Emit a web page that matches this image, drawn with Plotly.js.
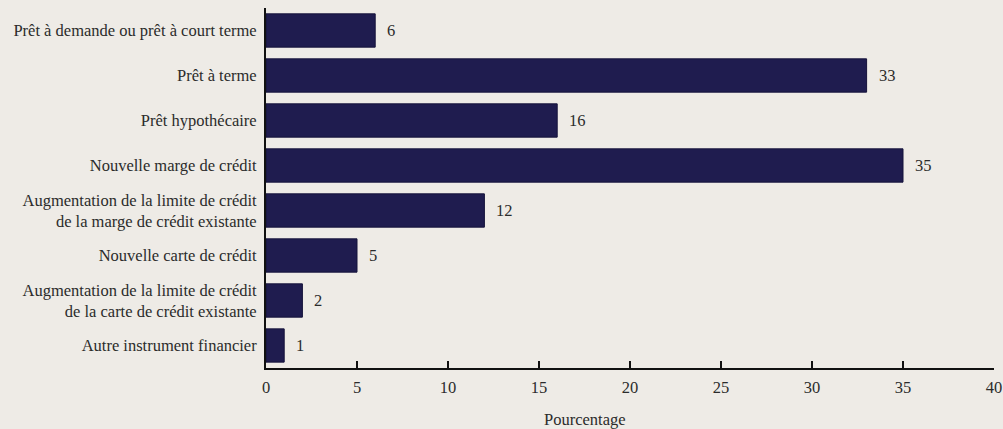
<!DOCTYPE html>
<html>
<head>
<meta charset="utf-8">
<script src="https://cdn.plot.ly/plotly-3.0.1.min.js"></script>
<style>
html,body{margin:0;padding:0;background:#eeebe6;}
#chart{width:1003px;height:429px;}
</style>
</head>
<body>
<div id="chart"></div>
<script>
const categories = [
  "Prêt à demande ou prêt à court terme",
  "Prêt à terme",
  "Prêt hypothécaire",
  "Nouvelle marge de crédit",
  "Augmentation de la limite de crédit<br>de la marge de crédit existante",
  "Nouvelle carte de crédit",
  "Augmentation de la limite de crédit<br>de la carte de crédit existante",
  "Autre instrument financier"
];
const values = [6, 33, 16, 35, 12, 5, 2, 1];
const xTicks = [0, 5, 10, 15, 20, 25, 30, 35, 40];

const fontFam = "Liberation Serif";
const textCol = "#2b2b2b";
const fs = 16.5;

const trace = {
  type: "bar",
  orientation: "h",
  x: values,
  y: categories,
  marker: {color: "#1f1c4f", line: {color: "#15123a", width: 1}},
  hoverinfo: "none"
};

const annotations = values.map((v, i) => ({
  x: v, y: categories[i], xref: "x", yref: "y",
  text: String(v), showarrow: false, xanchor: "left", xshift: 10,
  font: {family: fontFam, size: fs, color: textCol}
}));
annotations.push({
  xref: "paper", yref: "paper",
  x: (585 - 266) / (994 - 266), y: -(419 - 368) / (368 - 8),
  text: "Pourcentage", showarrow: false, xanchor: "center", yanchor: "middle",
  font: {family: fontFam, size: fs, color: textCol}
});

const layout = {
  width: 1003, height: 429,
  margin: {l: 266, r: 9, t: 8, b: 61},
  paper_bgcolor: "#eeebe6",
  plot_bgcolor: "#eeebe6",
  bargap: 0.26,
  showlegend: false,
  font: {family: fontFam, size: fs, color: textCol},
  xaxis: {
    range: [0, 40],
    tickvals: xTicks,
    ticktext: xTicks.map(String),
    showgrid: false, zeroline: false,
    showline: true, linecolor: "#111", linewidth: 2,
    ticks: "inside", ticklen: 7, tickwidth: 2, tickcolor: "#111",
    ticklabelstandoff: 3,
    tickfont: {family: fontFam, size: fs, color: textCol},
    fixedrange: true
  },
  yaxis: {
    autorange: "reversed",
    showgrid: false, zeroline: false,
    showline: true, linecolor: "#111", linewidth: 2,
    ticks: "", ticklabelstandoff: 4,
    tickfont: {family: fontFam, size: fs, color: textCol},
    fixedrange: true
  },
  annotations: annotations
};

Plotly.newPlot("chart", [trace], layout, {displayModeBar: false, staticPlot: true});
</script>
</body>
</html>
